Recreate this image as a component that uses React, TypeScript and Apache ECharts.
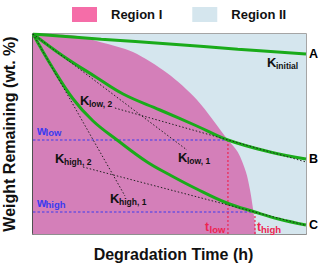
import React, { useEffect, useRef } from "react";
import * as echarts from "echarts";

// ---- data (arbitrary 0–100 units) ----
const timeRange = [0, 100];
const weightRange = [0, 100];

const regionIIBounds = [[0, 100], [100, 100]];
const regionIBoundary = [
  [0, 100], [13.6, 99.5], [24.5, 96], [36.6, 91], [49.1, 80.5], [60.1, 67],
  [71.4, 47], [75, 41], [78, 31], [79.5, 22], [80.8, 10.5], [81.7, 0],
];

const curveA = [[0, 100], [25, 97.4], [50, 95], [75, 92.4], [100, 90]];
const curveB = [
  [0, 100], [11, 89], [23, 78.5], [33, 70], [46.5, 62], [60, 54],
  [71.4, 47], [86.8, 41], [100, 37.5],
];
const curveC = [
  [0, 100], [7, 83.5], [14.7, 67.5], [22, 56.5], [30.8, 47], [41.8, 36],
  [50.2, 29.5], [60, 22.5], [71, 15.5], [81.3, 11], [90, 7.5], [100, 4.5],
];

const tLow = 71.4;
const wLow = 47;
const tHigh = 81.3;
const wHigh = 11;

const kHigh1 = [[0, 100], [33.7, 19]];
const kLow1 = [[0, 100], [56.4, 42]];
const kLow2 = [[30, 63], [100, 36]];
const kHigh2 = [[18.3, 33.5], [100, 4.3]];

const curveNames = ["A", "B", "C"];
const regionNames = ["Region I", "Region II"];

// ---- styles ----
const FONT = "'Liberation Sans', Arial, sans-serif";
const GREEN = "#1aab1a";
const PINK = "#d47fb9";
const PINK_LEGEND = "#f56da8";
const BLUE_BG = "#d5e6ee";
const BLUE = "#3b3bf0";
const RED = "#ee2450";

function txt(x: number, y: number, text: string, size: number, fill: string) {
  return {
    type: "text",
    x,
    y,
    z: 100,
    style: {
      text,
      fill,
      fontSize: size,
      fontWeight: "bold",
      fontFamily: FONT,
      align: "left",
      verticalAlign: "middle",
    },
  };
}

function subLabel(x: number, y: number, main: string, sub: string, fill: string, mainSize: number, subSize: number, subDx: number, subDy: number) {
  return [txt(x, y, main, mainSize, fill), txt(x + subDx, y + subDy, sub, subSize, fill)];
}

export default function App() {
  const ref = useRef<HTMLDivElement>(null);

  useEffect(() => {
    if (!ref.current) return;
    const chart = echarts.init(ref.current, null, { renderer: "svg" });

    const lineSeries = (name: string, data: number[][], label: string) => ({
      name,
      type: "line",
      data,
      smooth: 0.4,
      showSymbol: false,
      symbol: "none",
      z: 5,
      lineStyle: { color: GREEN, width: 3 },
      endLabel: {
        show: true,
        formatter: label,
        color: "#000",
        fontSize: 12.5,
        fontWeight: "bold",
        fontFamily: FONT,
        distance: 3,
      },
    });

    const dotted = (data: number[][]) => ({
      type: "line",
      data,
      showSymbol: false,
      symbol: "none",
      z: 6,
      lineStyle: { color: "#222", width: 1, type: [1.5, 2] },
    });

    const graphics: any[] = [
      ...subLabel(267, 62.5, "K", "initial", "#111", 13, 8.5, 9, 3.5),
      ...subLabel(80, 100, "K", "low, 2", "#111", 13, 8.5, 9, 3.5),
      ...subLabel(178, 157, "K", "low, 1", "#111", 13, 8.5, 9, 3.5),
      ...subLabel(55, 158, "K", "high, 2", "#111", 13, 8.5, 9, 3.5),
      ...subLabel(110, 198, "K", "high, 1", "#111", 13, 8.5, 9, 3.5),
      ...subLabel(37, 131, "w", "low", BLUE, 12, 9.5, 8.5, 1.5),
      ...subLabel(37, 203, "w", "high", BLUE, 12, 9.5, 8.5, 1.5),
      ...subLabel(205, 227, "t", "low", RED, 12, 9.5, 4.5, 2),
      ...subLabel(257, 227, "t", "high", RED, 12, 9.5, 4, 2),
    ];

    chart.setOption({
      animation: false,
      textStyle: { fontFamily: FONT },
      grid: {
        left: 33,
        right: 14,
        top: 34,
        bottom: 31,
        outerBoundsMode: "none",
        containLabel: false,
        show: true,
        borderColor: "#888",
        borderWidth: 1.5,
        backgroundColor: "transparent",
      },
      legend: {
        left: 67,
        top: 2,
        itemWidth: 25,
        itemHeight: 15,
        itemGap: 30,
        textStyle: { fontSize: 13, fontWeight: "bold", color: "#111", fontFamily: FONT, padding: [0, 0, 0, 9] },
        data: [
          { name: regionNames[0], icon: "rect", itemStyle: { color: PINK_LEGEND } },
          { name: regionNames[1], icon: "rect", itemStyle: { color: BLUE_BG } },
        ],
      },
      xAxis: {
        type: "value",
        min: timeRange[0],
        max: timeRange[1],
        axisLabel: { show: false },
        axisTick: { show: false },
        splitLine: { show: false },
        axisLine: { show: true, lineStyle: { color: "#888", width: 1.5 } },
        name: "Degradation Time (h)",
        nameLocation: "middle",
        nameGap: 12,
        nameTextStyle: { fontSize: 16, fontWeight: "bold", color: "#111", fontFamily: FONT, padding: [0, 0, 0, 8] },
      },
      yAxis: {
        type: "value",
        min: weightRange[0],
        max: weightRange[1],
        axisLabel: { show: false },
        axisTick: { show: false },
        splitLine: { show: false },
        axisLine: { show: true, lineStyle: { color: "#333", width: 1.5 } },
        name: "Weight Remaining (wt. %)",
        nameLocation: "middle",
        nameGap: 16,
        nameTextStyle: { fontSize: 16, fontWeight: "bold", color: "#111", fontFamily: FONT },
      },
      series: [
        {
          name: regionNames[1],
          type: "line",
          data: regionIIBounds,
          showSymbol: false,
          symbol: "none",
          z: 1,
          lineStyle: { width: 0 },
          itemStyle: { color: BLUE_BG },
          areaStyle: { color: BLUE_BG, opacity: 1 },
        },
        {
          name: regionNames[0],
          type: "line",
          data: regionIBoundary,
          smooth: 0.3,
          showSymbol: false,
          symbol: "none",
          z: 2,
          lineStyle: { width: 0 },
          itemStyle: { color: PINK_LEGEND },
          areaStyle: { color: PINK, opacity: 1 },
        },
        {
          type: "line",
          data: [[0, wLow], [tLow, wLow]],
          showSymbol: false,
          symbol: "none",
          z: 3,
          lineStyle: { color: BLUE, width: 1.2, type: [2.5, 2] },
        },
        {
          type: "line",
          data: [[0, wHigh], [tHigh, wHigh]],
          showSymbol: false,
          symbol: "none",
          z: 3,
          lineStyle: { color: BLUE, width: 1.2, type: [2.5, 2] },
        },
        {
          type: "line",
          data: [[tLow, 0], [tLow, wLow]],
          showSymbol: false,
          symbol: "none",
          z: 3,
          lineStyle: { color: RED, width: 1.5, type: [2, 2], opacity: 0.8 },
        },
        {
          type: "line",
          data: [[tHigh, 0], [tHigh, wHigh]],
          showSymbol: false,
          symbol: "none",
          z: 3,
          lineStyle: { color: RED, width: 1.5, type: [2, 2], opacity: 0.8 },
        },
        lineSeries("curveA", curveA, curveNames[0]),
        lineSeries("curveB", curveB, curveNames[1]),
        lineSeries("curveC", curveC, curveNames[2]),
        dotted(kHigh1),
        dotted(kLow1),
        dotted(kLow2),
        dotted(kHigh2),
      ],
      graphic: graphics,
    });

    return () => chart.dispose();
  }, []);

  return <div ref={ref} style={{ width: 320, height: 265, position: "absolute", left: 0, top: 0 }} />;
}
